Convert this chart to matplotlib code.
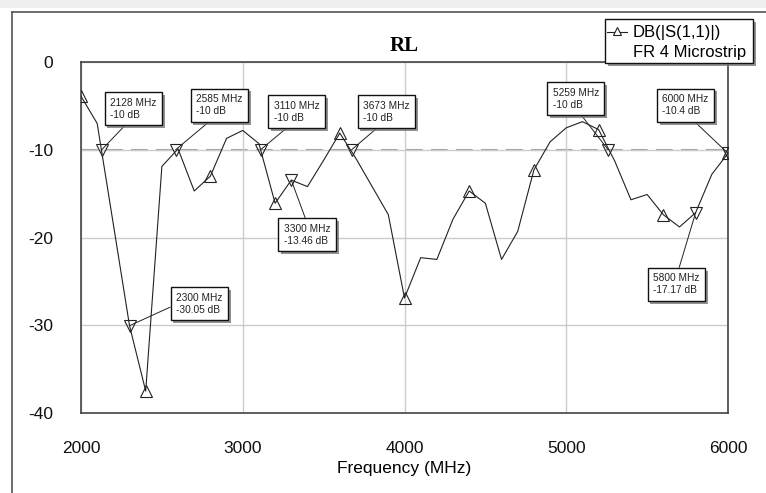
import numpy as np
import matplotlib
matplotlib.use("Agg")
from matplotlib import pyplot as plt
from matplotlib import patheffects as pe
from matplotlib.patches import Rectangle
from matplotlib.lines import Line2D

plt.rcParams["axes.unicode_minus"] = False

# Return loss sweep, 100 MHz steps
freq_mhz = np.arange(2000, 6001, 100)
s11_db = [-3.9, -7.0, -18.5, -30.05, -37.5, -11.9, -9.9, -14.7, -13.0, -8.7,
          -7.8, -9.3, -16.1, -13.46, -14.2, -11.2, -8.1, -11.0, -14.2, -17.4,
          -26.9, -22.3, -22.5, -17.9, -14.7, -16.1, -22.5, -19.3, -12.3, -9.1,
          -7.5, -6.8, -7.7, -11.3, -15.7, -15.1, -17.4, -18.8, -17.17, -12.8,
          -10.4]

# marker readouts
mk_freq = [2128, 2300, 2585, 3110, 3300, 3673, 5259, 5800, 6000]
mk_db = [-10, -30.05, -10, -10, -13.46, -10, -10, -17.17, -10.4]
mk_text = ["2128 MHz\n-10 dB", "2300 MHz\n-30.05 dB", "2585 MHz\n-10 dB",
           "3110 MHz\n-10 dB", "3300 MHz\n-13.46 dB", "3673 MHz\n-10 dB",
           "5259 MHz\n-10 dB", "5800 MHz\n-17.17 dB", "6000 MHz\n-10.4 dB"]
# label box text positions (data coords) and where the leader leaves the box
mk_textpos = [(2180, -4.06), (2588, -26.3), (2712, -3.67), (3191, -4.43),
              (3253, -18.44), (3744, -4.43), (4915, -2.92), (5538, -24.1),
              (5595, -3.67)]
mk_relpos = [(0.44, 0), (0, 0.47), (0.42, 0), (0.42, 0), (0.51, 1),
             (0.43, 0), (0.53, 0), (0.52, 1), (0.57, 0)]

W, H = 766, 493
fig = plt.figure(figsize=(W/100, H/100), dpi=100)
fig.patch.set_facecolor("white")

# gray strip on top + outer frame
fig.add_artist(Rectangle((0, (H-8)/H), 1, 8/H, transform=fig.transFigure,
                         fc="#f0f0f0", ec="none", zorder=0))
fig.add_artist(Line2D([11.5/W, 11.5/W], [0, (H-11.5)/H], transform=fig.transFigure,
                      color="#555555", lw=1.2))
fig.add_artist(Line2D([11.5/W, 1], [(H-11.5)/H, (H-11.5)/H], transform=fig.transFigure,
                      color="#555555", lw=1.2))

ax = fig.add_axes([81/W, (H-413)/H, (728-81)/W, (413-62)/H])
ax.set_xlim(2000, 6000)
ax.set_ylim(-40, 0)
ax.set_xticks([2000, 3000, 4000, 5000, 6000])
ax.set_yticks([0, -10, -20, -30, -40])
ax.grid(True, color="#cccccc", lw=1)
ax.tick_params(length=0, pad=20, labelsize=12.5)
for lab in ax.get_xticklabels() + ax.get_yticklabels():
    lab.set_fontfamily("Liberation Sans")
    lab.set_color("#111111")
for sp in ax.spines.values():
    sp.set_color("#444444")
    sp.set_linewidth(1.2)

ax.set_xlabel("Frequency (MHz)", fontsize=12.5, family="Liberation Sans", labelpad=4)
ax.set_title("RL", fontsize=15, fontweight="bold", family="Liberation Serif", pad=8)

ax.axhline(-10, color="#a0a0a0", lw=1.5, ls=(0, (8, 4)), zorder=1)

ax.plot(freq_mhz, s11_db, color="#222222", lw=0.8, marker="^", markersize=8,
        mfc="none", mec="#222222", mew=0.8, markevery=4, zorder=3)
ax.plot(mk_freq, mk_db, ls="none", marker="v", markersize=8, mfc="none",
        mec="#222222", mew=0.8, zorder=4)

shadow = [pe.withSimplePatchShadow(offset=(2, -2), shadow_rgbFace="#777777", alpha=0.8)]
for f, d, txt, tp, rp in zip(mk_freq, mk_db, mk_text, mk_textpos, mk_relpos):
    an = ax.annotate(txt, xy=(f, d), xytext=tp, textcoords="data",
                     ha="left", va="top", fontsize=7.3, family="Liberation Sans",
                     color="#222222", linespacing=1.25,
                     bbox=dict(boxstyle="square,pad=0.55", fc="white", ec="#111111", lw=1),
                     arrowprops=dict(arrowstyle="-", color="#222222", lw=0.7,
                                     relpos=rp, shrinkA=0, shrinkB=0),
                     zorder=5, annotation_clip=False)
    an.get_bbox_patch().set_path_effects(shadow)

# legend box
lx0, ly0, lx1, ly1 = 605, 19, 753, 63
leg = Rectangle((lx0/W, (H-ly1)/H), (lx1-lx0)/W, (ly1-ly0)/H, transform=fig.transFigure,
                fc="white", ec="#111111", lw=1, zorder=10)
leg.set_path_effects(shadow)
fig.add_artist(leg)
fig.add_artist(Line2D([607/W, 627/W], [(H-32)/H, (H-32)/H], transform=fig.transFigure,
                      color="#222222", lw=0.8, zorder=11))
fig.add_artist(Line2D([617/W], [(H-31)/H], transform=fig.transFigure, ls="none",
                      marker="^", markersize=6, mfc="white", mec="#222222",
                      mew=0.8, zorder=12))
fig.text(633/W, (H-32)/H, "DB(|S(1,1)|)", fontsize=12, family="Liberation Sans",
         va="center", ha="left", zorder=12)
fig.text(633/W, (H-52)/H, "FR 4 Microstrip", fontsize=12, family="Liberation Sans",
         va="center", ha="left", zorder=12)

fig.savefig("out.png", dpi=100)
